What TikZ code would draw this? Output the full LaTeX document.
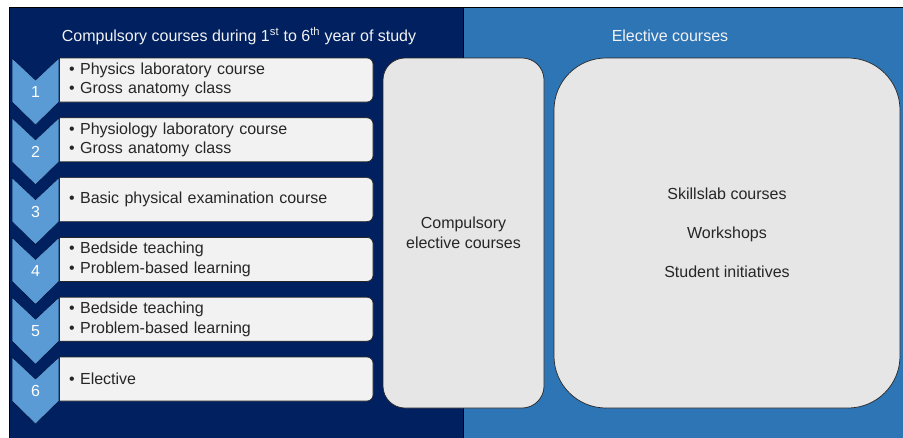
\documentclass[tikz,border=0pt]{standalone}
\usepackage{fontspec}
\setmainfont{Liberation Sans}
\definecolor{navy}{HTML}{002060}
\definecolor{midblue}{HTML}{2E75B6}
\definecolor{chev}{HTML}{5B9BD5}
\definecolor{boxgray}{HTML}{F2F2F2}
\definecolor{biggray}{HTML}{E6E6E6}
\definecolor{txt}{HTML}{262626}
\definecolor{titletxt}{HTML}{F2F2F2}
\tikzset{
  panelst/.style={draw=black, line width=0.8pt},
  boxst/.style={fill=boxgray, draw=black!85, line width=0.7pt, rounded corners=6pt},
  boxedge/.style={draw=black!85, line width=0.7pt},
  chevst/.style={fill=chev, draw=navy!70!black, line width=0.6pt, line join=miter},
  numst/.style={text=white, inner sep=0pt},
  itemst/.style={text=txt, inner sep=0pt, minimum height=44pt, align=left, text width=300pt},
  titlest/.style={text=titletxt, inner sep=0pt},
  bigbox/.style={fill=biggray, draw=black!85, line width=0.7pt, text=txt, align=center, inner sep=0pt},
}
\newcommand\yearrow[3]{%
  \begin{scope}
    \clip (59,#2-3) rectangle (380,#2+47);
    \draw[boxst] (45,#2) rectangle (373,#2+44);
  \end{scope}
  \draw[boxedge] (59,#2) -- (59,#2+44);
  \draw[chevst] (12,#2) -- (35.5,#2+22) -- (59,#2) -- (59,#2+44) -- (35.5,#2+67) -- (12,#2+44) -- cycle;
  \node[numst] (n#1) at (35.5,#2+34) {#1};
  \node[itemst, anchor=west] (b#1) at (69,#2+22) {#3};
}
\begin{document}
\begin{tikzpicture}[x=1pt, y=-1pt, font=\fontsize{16}{19.5}\selectfont]
\useasboundingbox (0,0) rectangle (903,437);
\fill[white] (0,0) rectangle (903,437);
\draw[panelst, fill=navy] (9,7) rectangle (463,441);
\draw[panelst, fill=midblue] (463,7) rectangle (907,441);

\node[titlest] (t1) at (239,36) {Compulsory courses during 1\textsuperscript{st} to 6\textsuperscript{th} year of study};
\node[titlest] (t2) at (670,36) {Elective courses};

\yearrow{1}{58}{• Physics laboratory course\\• Gross anatomy class}
\yearrow{2}{117.8}{• Physiology laboratory course\\• Gross anatomy class}
\yearrow{3}{177.6}{• Basic physical examination course}
\yearrow{4}{237.4}{• Bedside teaching\\• Problem-based learning}
\yearrow{5}{297.2}{• Bedside teaching\\• Problem-based learning}
\yearrow{6}{357}{• Elective}

\node[bigbox, rounded corners=22pt, minimum width=161pt, minimum height=350pt] (ce) at (463.5,233) {Compulsory\\elective courses};
\node[bigbox, rounded corners=52pt, minimum width=346pt, minimum height=350pt] (el) at (727,233) {Skillslab courses\\[19.5pt]Workshops\\[19.5pt]Student initiatives};
\end{tikzpicture}
\end{document}
